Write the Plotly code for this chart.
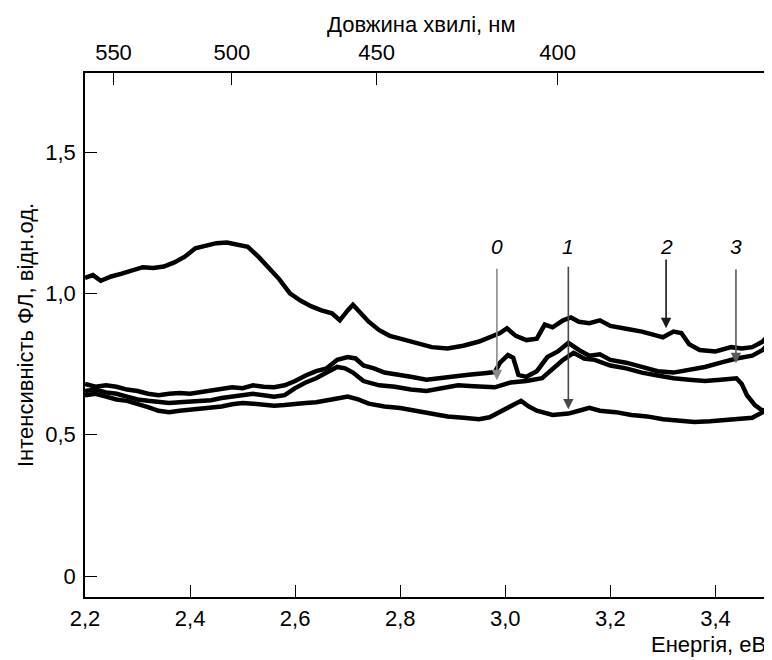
import plotly.graph_objects as go

# ---------------- data ----------------
# Curve "2" (upper curve)
e_2 = [2.200, 2.215, 2.230, 2.250, 2.270, 2.290, 2.310, 2.330, 2.350, 2.370, 2.390, 2.410,
       2.430, 2.450, 2.470, 2.490, 2.510, 2.530, 2.550, 2.570, 2.590, 2.610, 2.630, 2.650,
       2.670, 2.685, 2.700, 2.710, 2.725, 2.740, 2.760, 2.780, 2.800, 2.830, 2.860, 2.890,
       2.920, 2.950, 2.970, 2.990, 3.003, 3.020, 3.040, 3.060, 3.075, 3.090, 3.110, 3.125,
       3.140, 3.160, 3.180, 3.200, 3.230, 3.260, 3.290, 3.300, 3.320, 3.335, 3.350, 3.370,
       3.400, 3.430, 3.450, 3.470, 3.490, 3.500]
i_2 = [1.055, 1.065, 1.045, 1.060, 1.070, 1.080, 1.093, 1.090, 1.095, 1.110, 1.130, 1.160,
       1.170, 1.178, 1.180, 1.172, 1.165, 1.130, 1.090, 1.050, 1.000, 0.975, 0.955, 0.940,
       0.930, 0.905, 0.940, 0.960, 0.930, 0.900, 0.870, 0.850, 0.840, 0.825, 0.810, 0.805,
       0.815, 0.830, 0.845, 0.860, 0.877, 0.850, 0.835, 0.840, 0.890, 0.880, 0.905, 0.915,
       0.900, 0.895, 0.905, 0.885, 0.875, 0.865, 0.850, 0.845, 0.865, 0.860, 0.820, 0.800,
       0.795, 0.810, 0.805, 0.810, 0.830, 0.850]

# Curve "3" (second curve)
e_3 = [2.20, 2.22, 2.24, 2.26, 2.28, 2.30, 2.32, 2.34, 2.36, 2.38, 2.40, 2.42, 2.44, 2.46,
       2.48, 2.50, 2.52, 2.54, 2.56, 2.58, 2.60, 2.62, 2.64, 2.66, 2.68, 2.70, 2.715, 2.73,
       2.75, 2.77, 2.79, 2.82, 2.85, 2.88, 2.90, 2.93, 2.96, 2.98, 2.99, 3.005, 3.015, 3.025,
       3.04, 3.06, 3.08, 3.10, 3.12, 3.14, 3.16, 3.18, 3.20, 3.23, 3.26, 3.29, 3.32, 3.35,
       3.38, 3.41, 3.44, 3.47, 3.49, 3.50]
i_3 = [0.680, 0.670, 0.675, 0.670, 0.660, 0.655, 0.645, 0.640, 0.645, 0.648, 0.645, 0.650,
       0.655, 0.660, 0.668, 0.665, 0.675, 0.670, 0.668, 0.675, 0.690, 0.710, 0.725, 0.735,
       0.765, 0.775, 0.770, 0.745, 0.735, 0.720, 0.715, 0.705, 0.695, 0.700, 0.705, 0.712,
       0.718, 0.722, 0.755, 0.782, 0.772, 0.712, 0.705, 0.725, 0.775, 0.795, 0.825, 0.800,
       0.780, 0.785, 0.765, 0.755, 0.740, 0.725, 0.720, 0.730, 0.740, 0.755, 0.770, 0.780,
       0.800, 0.820]

# Curve "0" (third curve)
e_0 = [2.20, 2.22, 2.24, 2.26, 2.28, 2.30, 2.32, 2.34, 2.36, 2.38, 2.40, 2.42, 2.44, 2.46,
       2.48, 2.50, 2.52, 2.54, 2.56, 2.58, 2.60, 2.62, 2.64, 2.66, 2.68, 2.695, 2.71, 2.73,
       2.76, 2.79, 2.82, 2.85, 2.88, 2.91, 2.94, 2.96, 2.98, 3.01, 3.04, 3.07, 3.09, 3.11,
       3.13, 3.15, 3.17, 3.20, 3.23, 3.26, 3.29, 3.32, 3.35, 3.38, 3.41, 3.44, 3.45, 3.46,
       3.475, 3.49, 3.50]
i_0 = [0.655, 0.660, 0.650, 0.645, 0.635, 0.625, 0.620, 0.615, 0.612, 0.615, 0.618, 0.620,
       0.622, 0.630, 0.635, 0.640, 0.645, 0.640, 0.635, 0.640, 0.665, 0.685, 0.700, 0.720,
       0.740, 0.735, 0.720, 0.690, 0.675, 0.670, 0.660, 0.655, 0.665, 0.675, 0.672, 0.668,
       0.668, 0.685, 0.690, 0.700, 0.735, 0.765, 0.790, 0.770, 0.765, 0.745, 0.735, 0.720,
       0.710, 0.700, 0.695, 0.690, 0.695, 0.700, 0.680, 0.640, 0.605, 0.585, 0.590]

# Curve "1" (lowest curve)
e_1 = [2.20, 2.22, 2.24, 2.26, 2.28, 2.30, 2.32, 2.34, 2.36, 2.38, 2.40, 2.42, 2.44, 2.46,
       2.48, 2.50, 2.52, 2.54, 2.56, 2.58, 2.60, 2.62, 2.64, 2.66, 2.68, 2.70, 2.72, 2.74,
       2.77, 2.80, 2.83, 2.86, 2.89, 2.92, 2.95, 2.97, 2.99, 3.01, 3.03, 3.045, 3.06, 3.09,
       3.12, 3.14, 3.16, 3.18, 3.21, 3.24, 3.27, 3.30, 3.33, 3.36, 3.39, 3.42, 3.45, 3.47,
       3.49, 3.50]
i_1 = [0.640, 0.645, 0.635, 0.625, 0.620, 0.610, 0.598, 0.585, 0.580, 0.585, 0.588, 0.590,
       0.595, 0.600, 0.608, 0.612, 0.610, 0.605, 0.603, 0.605, 0.610, 0.612, 0.615, 0.620,
       0.628, 0.635, 0.625, 0.610, 0.600, 0.595, 0.585, 0.575, 0.565, 0.560, 0.555, 0.562,
       0.580, 0.598, 0.620, 0.600, 0.585, 0.570, 0.575, 0.585, 0.595, 0.585, 0.580, 0.570,
       0.565, 0.555, 0.548, 0.545, 0.548, 0.552, 0.555, 0.560, 0.580, 0.600]

# curve labels and arrows: label, arrow x (energy), arrow tail, arrow tip, colour
curve_labels = ["0", "1", "2", "3"]
arrow_e = [2.984, 3.120, 3.306, 3.439]
arrow_tail = [1.093, 1.100, 1.125, 1.090]
arrow_tip = [0.693, 0.590, 0.877, 0.753]
arrow_colors = ["#8a8a8a", "#4a4a4a", "#1a1a1a", "#5a5a5a"]
label_y = 1.165

# axes ticks
energy_ticks = [2.2, 2.4, 2.6, 2.8, 3.0, 3.2, 3.4]
energy_ticktext = ["2,2", "2,4", "2,6", "2,8", "3,0", "3,2", "3,4"]
wavelength_ticks = [550, 500, 450, 400]  # nm
int_ticks = [0, 0.5, 1.0, 1.5]
int_ticktext = ["0", "0,5", "1,0", "1,5"]

# ---------------- figure ----------------
FONT = "Liberation Sans, Arial, sans-serif"
FS = 22
fig = go.Figure()
for e, v in [(e_2, i_2), (e_3, i_3), (e_0, i_0), (e_1, i_1)]:
    fig.add_trace(go.Scatter(x=e, y=v, mode="lines",
                             line=dict(color="black", width=4.5),
                             showlegend=False, hoverinfo="skip"))

hc = 1239.84
wl_pos = [hc / w for w in wavelength_ticks]
fig.add_trace(go.Scatter(x=wl_pos, y=[int_ticks[1]] * len(wl_pos), xaxis="x2",
                         mode="markers", marker=dict(opacity=0), showlegend=False,
                         hoverinfo="skip"))

for lab, xe, yt, yp, col in zip(curve_labels, arrow_e, arrow_tail, arrow_tip, arrow_colors):
    fig.add_annotation(x=xe, y=yp, ax=xe, ay=yt, xref="x", yref="y", axref="x", ayref="y",
                       text="", showarrow=True, arrowhead=2, arrowsize=1.3,
                       arrowwidth=1.6, arrowcolor=col)
    fig.add_annotation(x=xe, y=label_y, xref="x", yref="y", text="<i>" + lab + "</i>",
                       showarrow=False, font=dict(family=FONT, size=21, color="black"))

fig.add_annotation(x=1.0, y=-0.0916, xref="paper", yref="paper", xanchor="right",
                   yanchor="middle", text="Енергія, еВ", showarrow=False,
                   font=dict(family=FONT, size=FS, color="black"))
fig.add_annotation(x=0.492, y=1.0935, xref="paper", yref="paper", xanchor="center",
                   yanchor="middle", text="Довжина хвилі, нм", showarrow=False,
                   font=dict(family=FONT, size=FS, color="black"))

axis_common = dict(showline=True, linecolor="black", linewidth=1.5, showgrid=False,
                   zeroline=False, ticks="inside", ticklen=12, tickwidth=1.2,
                   tickcolor="black", automargin=False,
                   tickfont=dict(family=FONT, size=FS, color="black"))

# the page body adds an 8 px offset, so the margins are shifted to compensate
fig.update_layout(
    width=772, height=660,
    margin=dict(l=77, r=12, t=65, b=71),
    paper_bgcolor="white", plot_bgcolor="white",
    xaxis=dict(range=[2.2, 3.5], tickvals=energy_ticks, ticktext=energy_ticktext,
               mirror=True, ticklabelstandoff=1, **axis_common),
    xaxis2=dict(range=[2.2, 3.5], overlaying="x", side="top", anchor="y",
                tickvals=wl_pos, ticktext=[str(w) for w in wavelength_ticks],
                ticklabelstandoff=2, **axis_common),
    yaxis=dict(range=[-0.074, 1.78], tickvals=int_ticks, ticktext=int_ticktext,
               mirror=True, ticklabelstandoff=3,
               title=dict(text="Інтенсивність ФЛ, відн.од.", standoff=6,
                          font=dict(family=FONT, size=FS, color="black")),
               **axis_common),
)

fig.write_html("out.html")
